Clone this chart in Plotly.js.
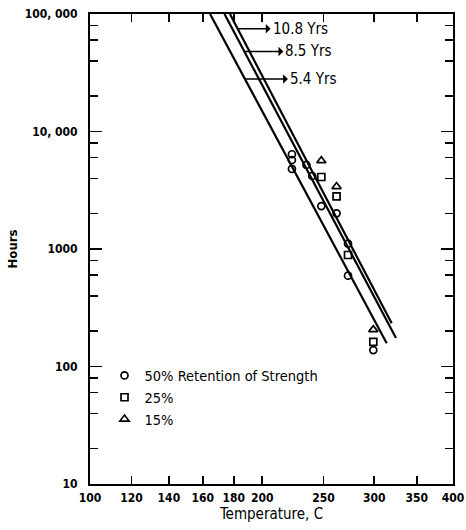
<!DOCTYPE html>
<html>
<head>
<meta charset="utf-8">
<script src="https://cdn.plot.ly/plotly-3.0.1.min.js"></script>
<style>html,body{margin:0;padding:0;background:#fff;}#chart{width:466px;height:530px;}</style>
</head>
<body>
<div id="chart"></div>
<script>
// ---- data (temperature in C, life in hours) ----
const tempTicks = [100, 120, 140, 160, 180, 200, 250, 300, 350, 400];
const hourTicks = [10, 100, 1000, 10000, 100000];
const hourTickText = ['10', '100', '1000', '10, 000', '100, 000'];
const hourMinor = [20, 40, 60, 80, 200, 400, 600, 800, 2000, 4000, 6000, 8000, 20000, 40000, 60000, 80000];

const life54T = [164.5, 313.8];
const life54H = [100000, 158];
const life85T = [173.8, 324.5];
const life85H = [100000, 175];
const life108T = [177.4, 319.5];
const life108H = [100000, 233];

const ret50T = [223, 223, 223, 235, 240, 248, 262, 273, 273, 299];
const ret50H = [6400, 5720, 4800, 5190, 4180, 2320, 2010, 1110, 593, 138];
const ret25T = [248, 262, 273, 299];
const ret25H = [4100, 2800, 889, 162];
const ret15T = [248, 262, 299];
const ret15H = [5640, 3400, 206];

const lifeLabels = ['10.8 Yrs', '8.5 Yrs', '5.4 Yrs'];
const labelHours = [75000, 48000, 28000];

// Arrhenius scale: x = 1000 / (T + 273)
const inv = t => 1000 / (t + 273);
const conv = arr => arr.map(inv);

const FONT = '"DejaVu Sans Condensed", "DejaVu Sans", sans-serif';

const lineStyle = {color: '#000', width: 2.2};
const traces = [
  {x: conv(life54T), y: life54H, mode: 'lines', line: lineStyle, showlegend: false, hoverinfo: 'skip'},
  {x: conv(life85T), y: life85H, mode: 'lines', line: lineStyle, showlegend: false, hoverinfo: 'skip'},
  {x: conv(life108T), y: life108H, mode: 'lines', line: lineStyle, showlegend: false, hoverinfo: 'skip'},
  {x: conv(ret50T), y: ret50H, mode: 'markers', name: '50% Retention of Strength',
   marker: {symbol: 'circle-open', size: 7, color: '#000', line: {width: 1.7, color: '#000'}}},
  {x: conv(ret25T), y: ret25H, mode: 'markers', name: '25%',
   marker: {symbol: 'square-open', size: 7, color: '#000', line: {width: 1.7, color: '#000'}}},
  {x: conv(ret15T), y: ret15H, mode: 'markers', name: '15%',
   marker: {symbol: 'triangle-up-open', size: 8, color: '#000', line: {width: 1.7, color: '#000'}}}
];

// point on a line at given hours (interpolated in Arrhenius/log space)
function xOnLine(T, H, h) {
  const u1 = inv(T[0]), u2 = inv(T[1]);
  const l1 = Math.log10(H[0]), l2 = Math.log10(H[1]);
  return u1 + (Math.log10(h) - l1) / (l2 - l1) * (u2 - u1);
}
const lineSets = [[life108T, life108H], [life85T, life85H], [life54T, life54H]];
const axOffsets = [33, 39, 43];
const annotations = lifeLabels.map((txt, i) => ({
  x: xOnLine(lineSets[i][0], lineSets[i][1], labelHours[i]),
  y: Math.log10(labelHours[i]),
  xref: 'x', yref: 'y',
  text: txt, showarrow: true, arrowside: 'start', arrowhead: 2, arrowsize: 0.75, arrowwidth: 1.6,
  arrowcolor: '#000', ax: axOffsets[i], ay: 0, xanchor: 'left',
  font: {family: FONT, size: 15, color: '#000'}
}));

const layout = {
  width: 466, height: 530,
  margin: {l: 90, r: 13, t: 14, b: 46},
  paper_bgcolor: '#fff', plot_bgcolor: '#fff',
  font: {family: FONT, color: '#000', size: 13},
  showlegend: true,
  legend: {x: 0.04, y: 0.265, xanchor: 'left', yanchor: 'top', bgcolor: 'rgba(0,0,0,0)',
           font: {family: FONT, size: 14.5, color: '#000'}, tracegroupgap: 0, itemwidth: 30},
  xaxis: {
    range: [inv(100), inv(400)],
    tickmode: 'array', tickvals: conv(tempTicks), ticktext: tempTicks.map(String),
    ticks: 'inside', ticklen: 8, tickwidth: 1.5, tickcolor: '#000',
    showline: true, linewidth: 2, linecolor: '#000', mirror: 'ticks',
    showgrid: false, zeroline: false,
    tickfont: {family: FONT, size: 12, color: '#000', weight: 'bold'},
    ticklabelstandoff: 2,
    title: {text: 'Temperature, C', font: {family: FONT, size: 15, color: '#000'}, standoff: 4}
  },
  yaxis: {
    type: 'log', range: [1, 5],
    tickmode: 'array', tickvals: hourTicks, ticktext: hourTickText,
    ticks: 'inside', ticklen: 12, tickwidth: 1.5, tickcolor: '#000',
    minor: {tickmode: 'array', tickvals: hourMinor, ticks: 'inside', ticklen: 8, tickwidth: 1.5, tickcolor: '#000', showgrid: false},
    showline: true, linewidth: 2, linecolor: '#000', mirror: 'ticks',
    showgrid: false, zeroline: false,
    tickfont: {family: FONT, size: 12, color: '#000', weight: 'bold'},
    ticklabelstandoff: 8,
    title: {text: 'Hours', font: {family: FONT, size: 13, color: '#000', weight: 'bold'}, standoff: 4}
  },
  annotations: annotations
};

Plotly.newPlot('chart', traces, layout, {displayModeBar: false, staticPlot: true});
</script>
</body>
</html>
